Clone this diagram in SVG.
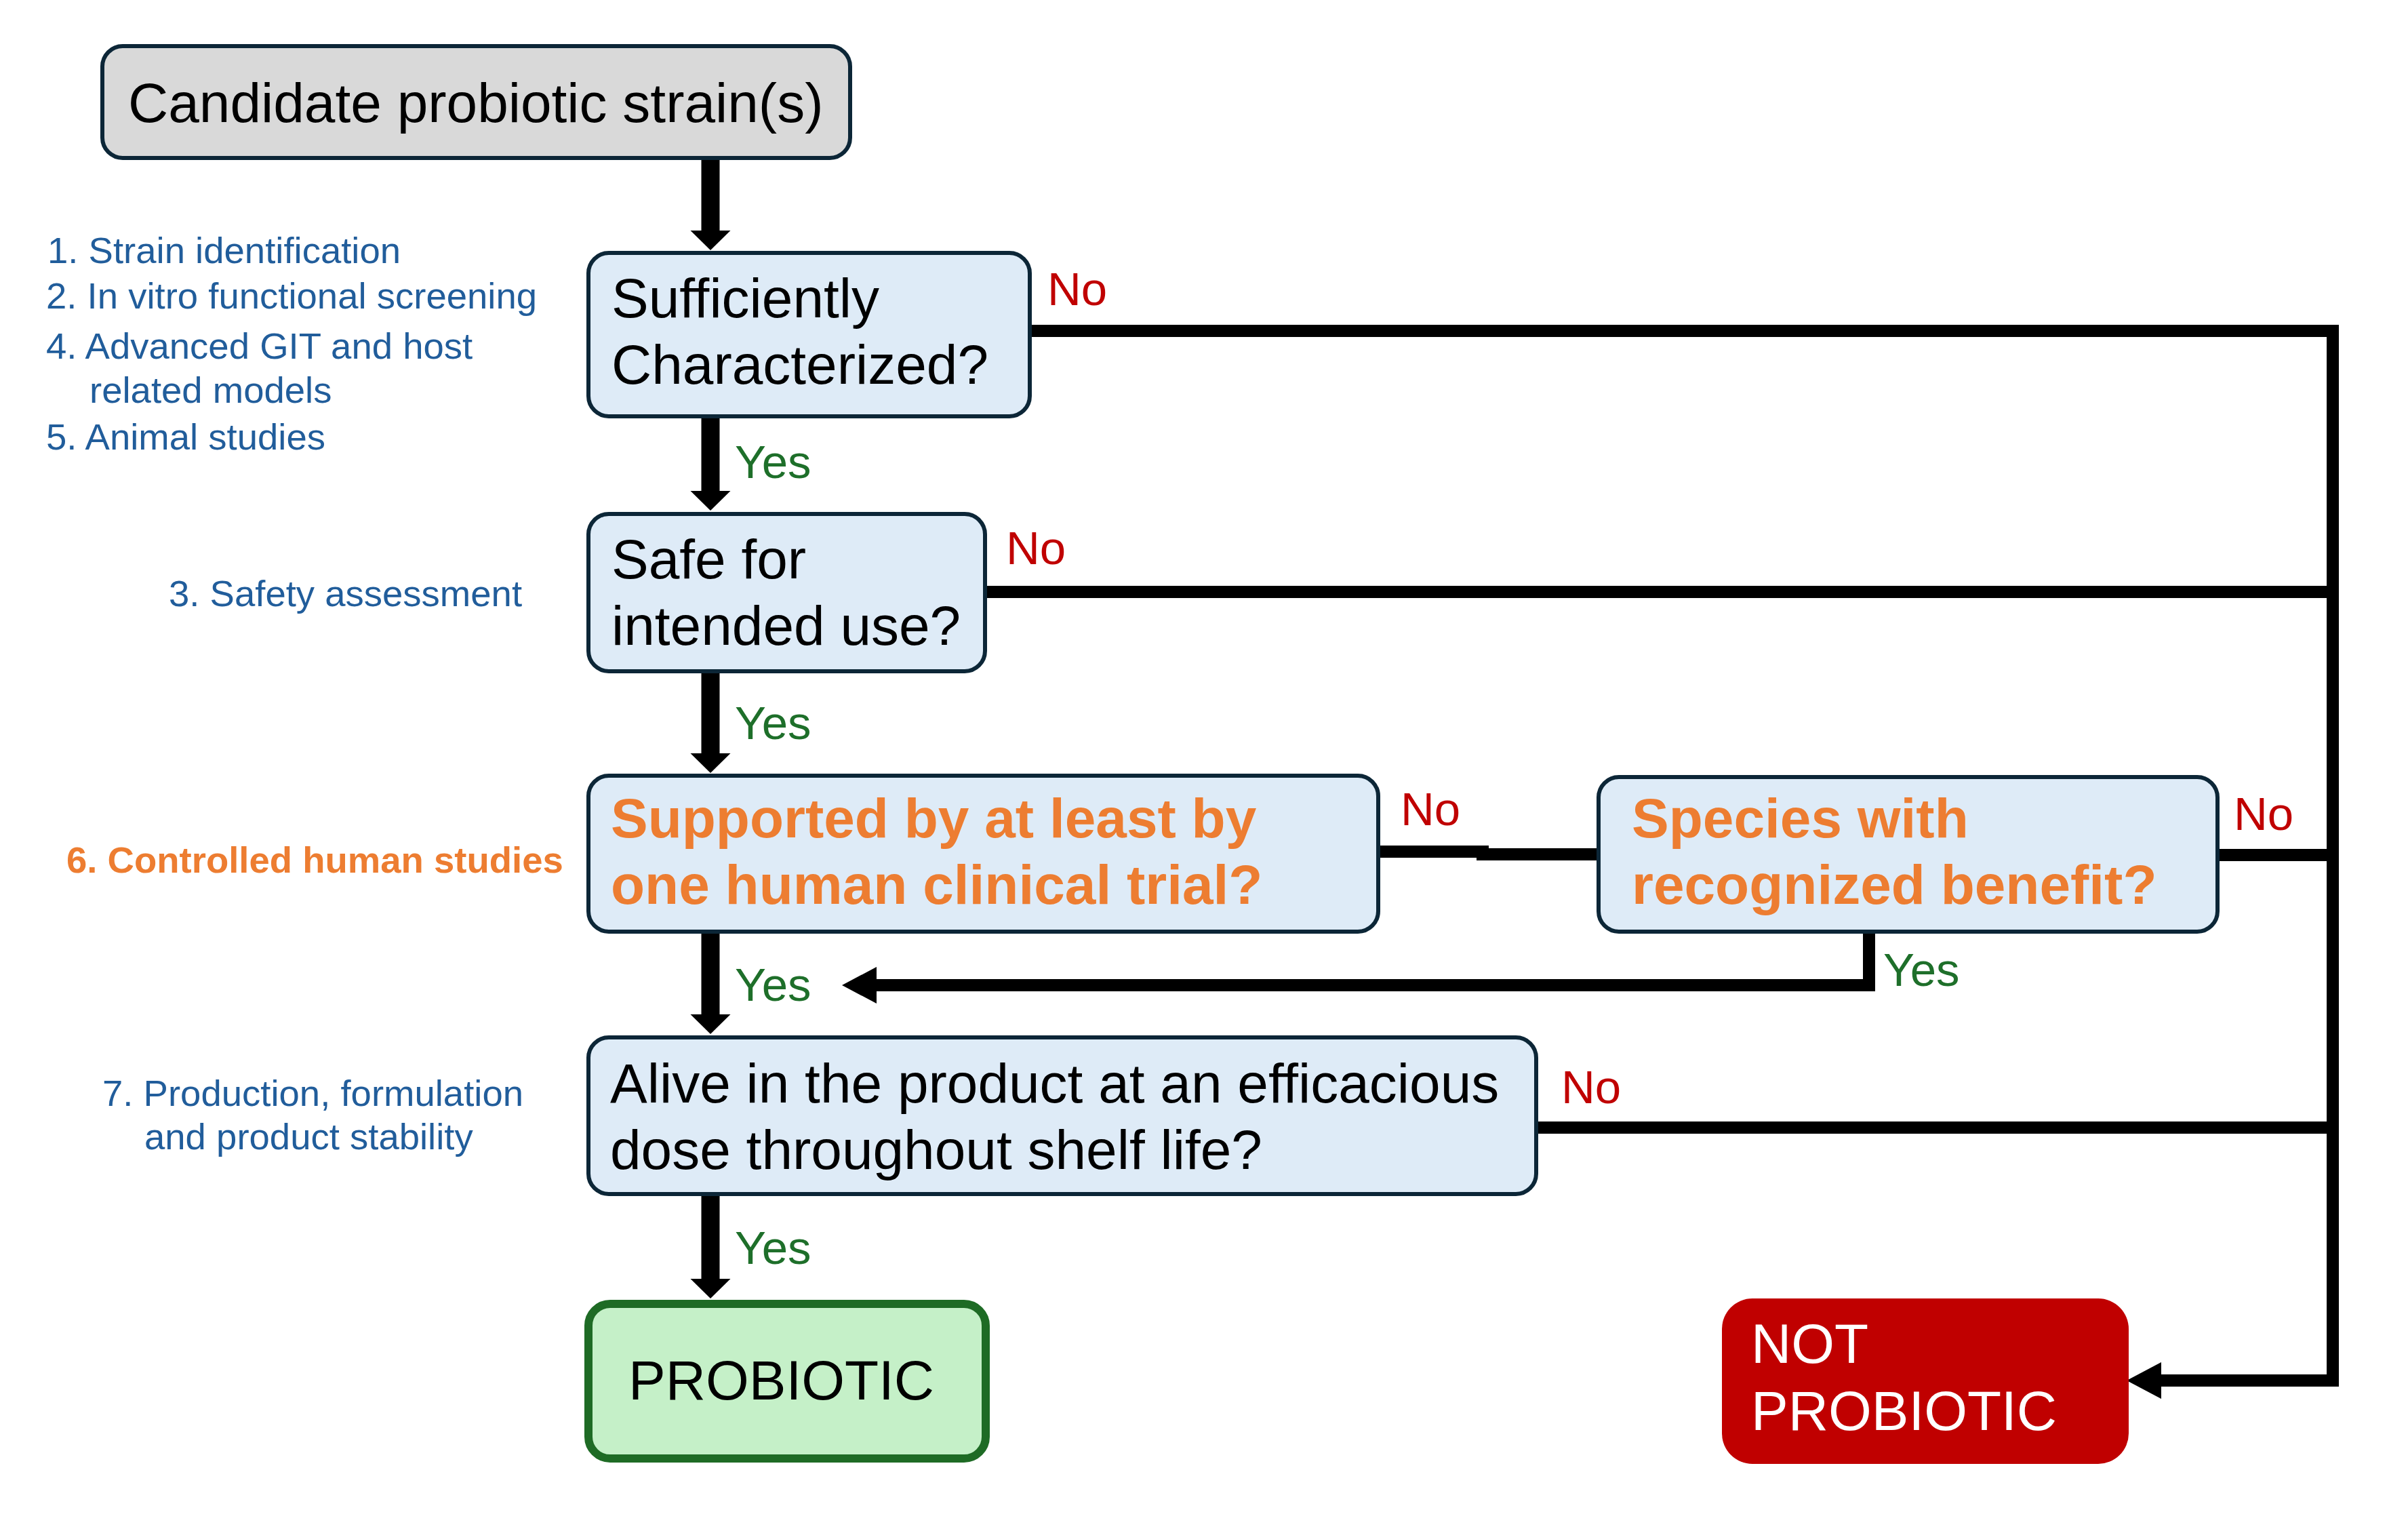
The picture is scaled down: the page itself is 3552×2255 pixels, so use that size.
<svg xmlns="http://www.w3.org/2000/svg" width="3552" height="2255" viewBox="0 0 3552 2255">
<style>
text{font-family:"Liberation Sans",Arial,sans-serif}
.box{fill:#deebf7;stroke:#0c2637;stroke-width:6}
.main{font-size:82px;fill:#000}
.orange{font-size:82px;fill:#ed7d31;font-weight:bold}
.ann{font-size:54.5px;fill:#215d9b}
.annb{font-size:54.5px;fill:#ed7d31;font-weight:bold}
.no{font-size:69px;fill:#c00000}
.yes{font-size:69px;fill:#1e6f2a}
.big{stroke:#000;stroke-width:27;fill:none}
.thin{stroke:#000;stroke-width:18;fill:none;stroke-linejoin:miter}
</style>
<defs>
<marker id="bigHead" markerUnits="userSpaceOnUse" markerWidth="30" markerHeight="60" refX="0" refY="29.5" orient="auto" overflow="visible"><path d="M0,0 L29,29.5 L0,59 Z" fill="#000"/></marker>
<marker id="smallHead" markerUnits="userSpaceOnUse" markerWidth="52" markerHeight="54" refX="0" refY="27" orient="auto" overflow="visible"><path d="M0,0 L51,27 L0,54 Z" fill="#000"/></marker>
</defs>
<rect width="3552" height="2255" fill="#fff"/>
<g id="annotations">
<text class="ann" x="70" y="388">1. Strain identification</text>
<text class="ann" x="68" y="455">2. In vitro functional screening</text>
<text class="ann" x="68" y="529">4. Advanced GIT and host</text>
<text class="ann" x="132" y="594">related models</text>
<text class="ann" x="68" y="663">5. Animal studies</text>
<text class="ann" x="249" y="894">3. Safety assessment</text>
<text class="annb" x="98" y="1287">6. Controlled human studies</text>
<text class="ann" x="151" y="1631">7. Production, formulation</text>
<text class="ann" x="213" y="1695">and product stability</text>
</g>
<g id="connectors">
<path class="big" d="M1048,236 V340" marker-end="url(#bigHead)"/>
<path class="big" d="M1048,617 V724" marker-end="url(#bigHead)"/>
<path class="big" d="M1048,993 V1111" marker-end="url(#bigHead)"/>
<path class="big" d="M1048,1377 V1496" marker-end="url(#bigHead)"/>
<path class="big" d="M1048,1764 V1886" marker-end="url(#bigHead)"/>
<path class="thin" d="M1522,488 H3441 V2036 H3188" marker-end="url(#smallHead)"/>
<path class="thin" d="M1456,873 H3441"/>
<path class="thin" d="M2036,1256 H2187 V1260 H2355"/>
<path class="thin" d="M3274,1261 H3441"/>
<path class="thin" d="M2269,1663 H3441"/>
<path class="thin" d="M2757,1377 V1453 H1293" marker-end="url(#smallHead)"/>
<text class="no" x="1545" y="450">No</text>
<text class="no" x="1484" y="832">No</text>
<text class="no" x="2066" y="1217">No</text>
<text class="no" x="3295" y="1224">No</text>
<text class="no" x="2303" y="1627">No</text>
<text class="yes" x="1084" y="705">Yes</text>
<text class="yes" x="1084" y="1090">Yes</text>
<text class="yes" x="1084" y="1476">Yes</text>
<text class="yes" x="1084" y="1864">Yes</text>
<text class="yes" x="2778" y="1454">Yes</text>
</g>
<g id="candidate">
<rect x="151" y="68" width="1103" height="165" rx="30" fill="#d9d9d9" stroke="#0c2637" stroke-width="6"/>
<text class="main" x="189" y="180">Candidate probiotic strain(s)</text>
</g>
<g id="characterized">
<rect class="box" x="868" y="373" width="651" height="241" rx="30"/>
<text class="main" x="902" y="468">Sufficiently</text>
<text class="main" x="902" y="566">Characterized?</text>
</g>
<g id="safe">
<rect class="box" x="868" y="758" width="585" height="232" rx="30"/>
<text class="main" x="902" y="853">Safe for</text>
<text class="main" x="902" y="951">intended use?</text>
</g>
<g id="clinical">
<rect class="box" x="868" y="1144" width="1165" height="230" rx="30"/>
<text class="orange" x="901" y="1235">Supported by at least by</text>
<text class="orange" x="901" y="1333">one human clinical trial?</text>
</g>
<g id="species">
<rect class="box" x="2358" y="1146" width="913" height="228" rx="30"/>
<text class="orange" x="2407" y="1235">Species with</text>
<text class="orange" x="2407" y="1333">recognized benefit?</text>
</g>
<g id="alive">
<rect class="box" x="868" y="1530" width="1398" height="231" rx="30"/>
<text class="main" x="900" y="1626">Alive in the product at an efficacious</text>
<text class="main" x="900" y="1724">dose throughout shelf life?</text>
</g>
<g id="probiotic">
<rect x="868" y="1923" width="586" height="228" rx="32" fill="#c5f0c8" stroke="#1e6b25" stroke-width="12"/>
<text class="main" x="927" y="2064">PROBIOTIC</text>
</g>
<g id="not-probiotic">
<rect x="2540" y="1915" width="600" height="244" rx="45" fill="#c00000"/>
<text class="main" x="2583" y="2010" style="fill:#fff">NOT</text>
<text class="main" x="2583" y="2109" style="fill:#fff">PROBIOTIC</text>
</g>
</svg>
